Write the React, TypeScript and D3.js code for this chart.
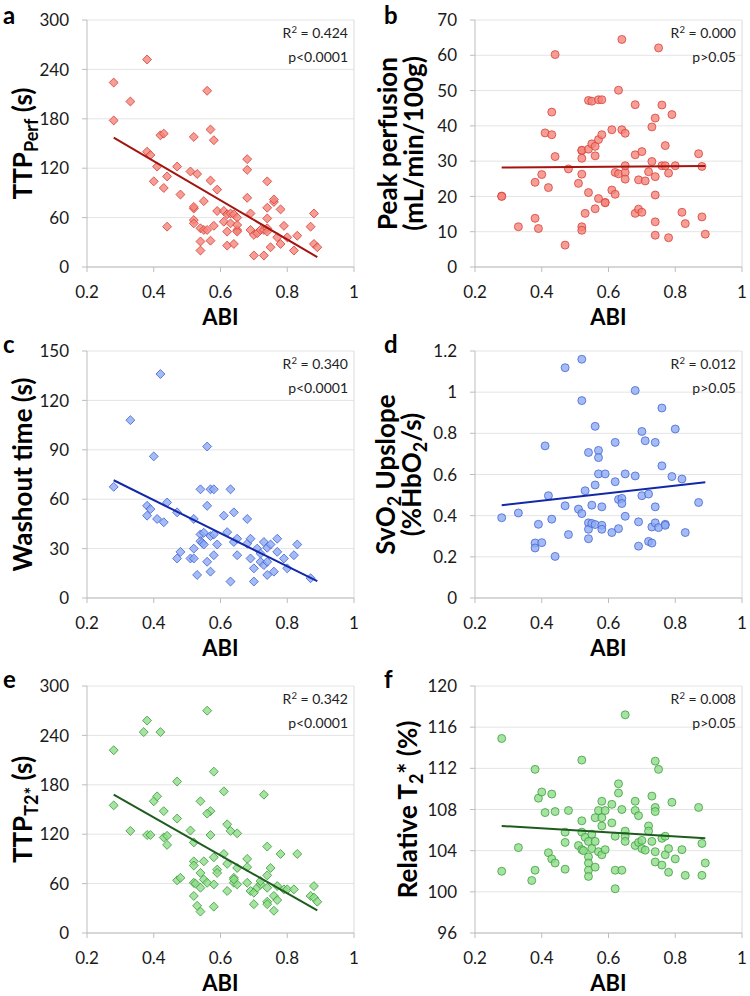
import React from "react";
import * as d3 from "d3";

type Pt = [number, number];

const abiTicks = [0.2, 0.4, 0.6, 0.8, 1];
const trendX: [number, number] = [0.28, 0.89];

// panel a: TTP perf vs ABI
const ttpPerf: Pt[] = [
  [0.28, 224], [0.28, 178], [0.33, 201], [0.38, 252], [0.38, 140], [0.39, 136], [0.42, 160], [0.43, 162],
  [0.41, 122], [0.4, 104], [0.43, 96], [0.44, 110], [0.44, 49], [0.47, 122], [0.48, 88], [0.51, 116],
  [0.52, 158], [0.53, 113], [0.52, 71], [0.52, 73], [0.52, 57], [0.52, 53], [0.54, 47], [0.54, 31],
  [0.54, 20], [0.55, 80], [0.55, 45], [0.56, 45], [0.56, 214], [0.57, 167], [0.58, 154], [0.57, 105],
  [0.59, 94], [0.57, 32], [0.58, 50], [0.59, 68], [0.61, 68], [0.61, 55], [0.62, 64], [0.62, 43],
  [0.62, 26], [0.63, 65], [0.63, 53], [0.64, 64], [0.64, 28], [0.65, 60], [0.65, 45], [0.65, 43],
  [0.65, 51], [0.68, 131], [0.68, 118], [0.68, 84], [0.69, 65], [0.69, 45], [0.7, 39], [0.71, 41],
  [0.7, 14], [0.73, 14], [0.72, 45], [0.73, 45], [0.74, 47], [0.74, 104], [0.74, 72], [0.74, 59],
  [0.74, 43], [0.75, 24], [0.76, 79], [0.76, 82], [0.77, 36], [0.78, 70], [0.78, 28], [0.79, 50],
  [0.8, 36], [0.82, 20], [0.83, 38], [0.87, 49], [0.88, 65], [0.88, 28], [0.89, 24],
];

// panel b: peak perfusion
const peakPerfusion: Pt[] = [
  [0.28, 20.1], [0.28, 20.0], [0.33, 11.4], [0.38, 13.8], [0.38, 24.0], [0.39, 10.9], [0.4, 26.2], [0.41, 38.0],
  [0.42, 22.5], [0.43, 37.5], [0.43, 43.9], [0.44, 31.3], [0.44, 60.2], [0.47, 6.2], [0.48, 27.8], [0.51, 23.7],
  [0.52, 30.8], [0.52, 33.0], [0.52, 33.1], [0.52, 26.3], [0.52, 11.4], [0.52, 10.4], [0.53, 15.2], [0.54, 21.1],
  [0.54, 47.2], [0.54, 33.4], [0.55, 47.0], [0.55, 34.9], [0.56, 34.2], [0.56, 31.5], [0.56, 16.5], [0.57, 36.1],
  [0.57, 47.4], [0.57, 19.4], [0.58, 47.4], [0.58, 37.5], [0.59, 18.3], [0.59, 18.2], [0.61, 38.9], [0.61, 21.8],
  [0.62, 26.8], [0.62, 20.6], [0.63, 26.4], [0.63, 50.1], [0.64, 38.9], [0.64, 64.5], [0.65, 37.9], [0.65, 26.8],
  [0.65, 28.7], [0.65, 24.9], [0.68, 31.8], [0.68, 46.0], [0.68, 15.2], [0.69, 24.7], [0.69, 16.4], [0.7, 32.7],
  [0.7, 15.5], [0.71, 24.4], [0.72, 27.0], [0.73, 29.9], [0.73, 39.7], [0.74, 42.2], [0.74, 25.6], [0.74, 20.4],
  [0.74, 12.8], [0.74, 9.0], [0.75, 62.1], [0.76, 45.9], [0.76, 28.7], [0.77, 34.4], [0.77, 28.7], [0.78, 26.6],
  [0.78, 8.3], [0.79, 43.2], [0.8, 28.7], [0.82, 15.5], [0.83, 12.3], [0.87, 32.1], [0.88, 28.5], [0.88, 14.2],
  [0.89, 9.3],
];

// panel c: washout time
const washout: Pt[] = [
  [0.28, 67.5], [0.33, 108], [0.38, 56], [0.38, 50], [0.39, 54], [0.4, 86], [0.41, 48], [0.42, 136],
  [0.43, 46], [0.44, 58], [0.47, 52], [0.47, 24], [0.48, 28], [0.51, 24], [0.52, 48], [0.52, 30],
  [0.52, 24], [0.53, 14], [0.54, 66], [0.54, 38.6], [0.54, 34.5], [0.545, 33.5], [0.55, 39.6], [0.55, 32.5],
  [0.56, 92], [0.56, 56], [0.56, 22], [0.57, 66], [0.58, 66], [0.57, 37.6], [0.58, 38.6], [0.57, 16],
  [0.58, 26], [0.59, 32.5], [0.61, 50], [0.62, 40], [0.63, 66], [0.63, 10], [0.64, 52], [0.64, 34],
  [0.65, 36], [0.65, 26], [0.68, 48], [0.68, 33], [0.69, 36], [0.69, 24], [0.7, 18], [0.7, 10],
  [0.71, 30], [0.72, 22], [0.72, 27], [0.73, 34], [0.73, 20], [0.74, 30.5], [0.74, 22], [0.74, 14],
  [0.75, 32.5], [0.76, 16], [0.77, 28], [0.77, 36], [0.79, 24], [0.8, 18], [0.82, 26], [0.83, 32.5],
  [0.87, 12],
];

// panel d: SvO2 upslope
const svo2Upslope: Pt[] = [
  [0.28, 0.39], [0.33, 0.413], [0.38, 0.267], [0.38, 0.243], [0.39, 0.358], [0.4, 0.269], [0.41, 0.739], [0.42, 0.497],
  [0.43, 0.383], [0.44, 0.202], [0.47, 1.119], [0.47, 0.448], [0.48, 0.308], [0.51, 0.432], [0.52, 1.16], [0.52, 0.959],
  [0.52, 0.41], [0.53, 0.521], [0.54, 0.707], [0.54, 0.365], [0.54, 0.334], [0.54, 0.288], [0.55, 0.451], [0.55, 0.362],
  [0.56, 0.834], [0.56, 0.549], [0.56, 0.357], [0.57, 0.717], [0.57, 0.682], [0.57, 0.603], [0.58, 0.443], [0.58, 0.353],
  [0.58, 0.334], [0.59, 0.603], [0.61, 0.318], [0.62, 0.756], [0.62, 0.565], [0.63, 0.479], [0.63, 0.337], [0.64, 0.484],
  [0.64, 0.459], [0.65, 0.603], [0.65, 0.397], [0.68, 0.593], [0.68, 1.008], [0.69, 0.37], [0.69, 0.252], [0.7, 0.809],
  [0.7, 0.497], [0.71, 0.764], [0.72, 0.505], [0.72, 0.275], [0.73, 0.267], [0.73, 0.345], [0.74, 0.756], [0.74, 0.443],
  [0.74, 0.365], [0.75, 0.342], [0.76, 0.923], [0.76, 0.642], [0.77, 0.358], [0.77, 0.353], [0.79, 0.59], [0.8, 0.821],
  [0.82, 0.578], [0.83, 0.318], [0.87, 0.464],
];

// panel e: TTP T2*
const ttpT2: Pt[] = [
  [0.28, 222], [0.28, 155], [0.33, 124], [0.37, 244], [0.38, 258], [0.38, 119], [0.39, 119], [0.4, 160],
  [0.41, 166], [0.42, 244], [0.43, 148], [0.43, 116], [0.44, 118], [0.44, 107], [0.47, 184], [0.47, 139],
  [0.47, 64], [0.48, 67], [0.51, 124.5], [0.52, 110], [0.52, 87], [0.52, 82], [0.52, 61], [0.525, 60],
  [0.52, 45], [0.53, 33], [0.54, 160], [0.54, 73], [0.54, 55], [0.54, 26], [0.55, 87], [0.55, 65],
  [0.56, 61], [0.56, 270], [0.57, 148], [0.56, 145], [0.57, 119], [0.58, 92], [0.58, 196], [0.58, 59],
  [0.58, 32], [0.59, 77], [0.59, 73], [0.61, 172], [0.61, 96], [0.62, 132], [0.62, 84], [0.62, 51],
  [0.63, 124], [0.64, 67], [0.64, 61], [0.65, 121], [0.65, 79], [0.65, 59], [0.64, 65], [0.68, 90],
  [0.68, 80], [0.68, 61], [0.69, 51], [0.7, 49], [0.7, 35], [0.71, 55], [0.72, 59], [0.72, 63],
  [0.73, 168], [0.74, 105], [0.74, 70], [0.74, 38], [0.74, 35], [0.74, 55], [0.75, 79], [0.76, 27],
  [0.76, 45], [0.77, 40], [0.78, 96], [0.77, 57], [0.79, 53], [0.8, 53], [0.82, 53], [0.83, 96],
  [0.87, 45], [0.88, 57], [0.88, 43], [0.89, 38],
];

// panel f: relative T2*
const relT2: Pt[] = [
  [0.28, 114.9], [0.28, 102.0], [0.33, 104.3], [0.37, 101.1], [0.38, 111.9], [0.38, 102.1], [0.39, 109.1], [0.4, 109.7],
  [0.41, 107.7], [0.42, 103.8], [0.43, 103.2], [0.43, 109.5], [0.44, 107.8], [0.44, 102.8], [0.47, 105.8], [0.47, 104.8],
  [0.47, 102.2], [0.48, 107.9], [0.51, 104.5], [0.52, 112.8], [0.52, 106.9], [0.52, 105.8], [0.52, 104.1], [0.525, 104.0],
  [0.53, 105.3], [0.54, 104.9], [0.54, 103.4], [0.54, 102.8], [0.54, 102.1], [0.54, 101.5], [0.55, 105.6], [0.55, 104.2],
  [0.56, 107.2], [0.56, 104.9], [0.56, 102.4], [0.57, 107.9], [0.57, 103.9], [0.58, 108.8], [0.58, 107.2], [0.58, 106.4],
  [0.58, 103.6], [0.59, 107.9], [0.59, 104.1], [0.61, 108.5], [0.61, 106.7], [0.62, 105.4], [0.62, 102.1], [0.62, 100.3],
  [0.63, 110.5], [0.63, 109.6], [0.64, 108.0], [0.64, 102.1], [0.65, 117.2], [0.65, 105.9], [0.65, 105.4], [0.65, 104.9],
  [0.68, 108.8], [0.68, 107.9], [0.68, 104.5], [0.69, 107.4], [0.69, 104.8], [0.7, 105.0], [0.7, 104.2], [0.71, 104.05],
  [0.72, 106.4], [0.72, 105.9], [0.73, 109.3], [0.73, 104.9], [0.74, 112.7], [0.74, 108.2], [0.74, 107.8], [0.74, 103.9],
  [0.74, 102.9], [0.75, 111.9], [0.76, 102.6], [0.76, 105.2], [0.77, 105.4], [0.77, 103.6], [0.78, 104.2], [0.78, 101.9],
  [0.79, 108.7], [0.8, 103.2], [0.82, 104.1], [0.83, 101.6], [0.87, 108.2], [0.88, 104.7], [0.88, 101.6], [0.89, 102.8],
];

// fitted line values at trendX ends
const trendA: [number, number] = [157, 12];
const trendB: [number, number] = [28.2, 28.6];
const trendC: [number, number] = [71.5, 10.2];
const trendD: [number, number] = [0.451, 0.562];
const trendE: [number, number] = [168, 27.5];
const trendF: [number, number] = [106.4, 105.2];

const yTicksTTP = [0, 60, 120, 180, 240, 300];
const yTicksPeak = [0, 10, 20, 30, 40, 50, 60, 70];
const yTicksWash = [0, 30, 60, 90, 120, 150];
const yTicksSvo2 = [0, 0.2, 0.4, 0.6, 0.8, 1, 1.2];
const yTicksRel = [96, 100, 104, 108, 112, 116, 120];

const FONT = "Lato, 'Open Sans', sans-serif";
const W = 267;
const H = 247;

const red = { fill: "#f4857c", stroke: "#d63e35", line: "#a3140f" };
const blue = { fill: "#8eaaf2", stroke: "#3f62d2", line: "#1228a8" };
const green = { fill: "#8fdc8a", stroke: "#3a9a3a", line: "#1d5c1d" };

const diamond = d3.symbol().type(d3.symbolSquare).size(40)();

const Panel = ({ letter, left, top, points, shape, color, yTicks, trend, r2, p, children }) => {
  const xScale = d3.scaleLinear().domain([0.2, 1]).range([left, left + W]);
  const yScale = d3
    .scaleLinear()
    .domain([yTicks[0], yTicks[yTicks.length - 1]])
    .range([top + H, top]);
  const bottom = top + H;
  const line = d3
    .line<number>()
    .x((d, i) => xScale(trendX[i]))
    .y((d) => yScale(d));

  return (
    <g fontFamily={FONT}>
      <text x={left < 200 ? 3 : 384} y={Math.max(top + 2, 24)} fontSize={24} fontWeight="bold" fill="#000">
        {letter}
      </text>
      {yTicks.map((t) => (
        <g key={t}>
          <line x1={left} x2={left + W} y1={yScale(t)} y2={yScale(t)} stroke="#e4e4e4" />
          <line x1={left - 5} x2={left} y1={yScale(t)} y2={yScale(t)} stroke="#bdbdbd" />
          <text x={left - 18} y={yScale(t)} dy="0.36em" textAnchor="end" fontSize={17} fill="#1a1a1a">
            {t}
          </text>
        </g>
      ))}
      <line x1={left + W} x2={left + W} y1={top} y2={bottom} stroke="#dadada" />
      {abiTicks.map((t) => (
        <g key={t}>
          <line x1={xScale(t)} x2={xScale(t)} y1={bottom} y2={bottom + 5} stroke="#bdbdbd" />
          <text x={xScale(t)} y={bottom + 31} textAnchor="middle" fontSize={17} fill="#1a1a1a">
            {t}
          </text>
        </g>
      ))}
      <line x1={left} x2={left} y1={top} y2={bottom} stroke="#bdbdbd" />
      <line x1={left} x2={left + W} y1={bottom} y2={bottom} stroke="#bdbdbd" />
      <text x={left + W / 2} y={bottom + 58} textAnchor="middle" fontSize={22} fontWeight="bold">
        ABI
      </text>
      {children}
      <g>
        {points.map(([a, v], i) =>
          shape === "diamond" ? (
            <path
              key={i}
              d={diamond}
              transform={`translate(${xScale(a)},${yScale(v)}) rotate(45)`}
              fill={color.fill}
              fillOpacity={0.8}
              stroke={color.stroke}
              strokeOpacity={0.85}
              strokeWidth={0.9}
            />
          ) : (
            <circle
              key={i}
              cx={xScale(a)}
              cy={yScale(v)}
              r={4}
              fill={color.fill}
              fillOpacity={0.8}
              stroke={color.stroke}
              strokeOpacity={0.85}
              strokeWidth={0.9}
            />
          )
        )}
      </g>
      <path d={line(trend)} stroke={color.line} strokeWidth={2} fill="none" />
      <text x={left + W - 6} y={top + 18} textAnchor="end" fontSize={14} fill="#222">
        R<tspan dy={-5} fontSize={9.5}>2</tspan>
        <tspan dy={5}> = {r2}</tspan>
      </text>
      <text x={left + W - 6} y={top + 42} textAnchor="end" fontSize={14} fill="#222">
        {p}
      </text>
    </g>
  );
};

const YLabel = ({ x, cy, children }) => (
  <text
    transform={`translate(${x},${cy}) rotate(-90)`}
    textAnchor="middle"
    fontSize={26}
    fontWeight="bold"
    fontFamily={FONT}
  >
    {children}
  </text>
);

const L = 87;
const R = 475;
const tops = [20, 351, 686];

export default function App() {
  const cy = (t: number) => t + H / 2;
  return (
    <svg
      width={750}
      height={996}
      style={{ position: "absolute", left: 0, top: 0, background: "#fff" }}
    >
      <Panel letter="a" left={L} top={tops[0]} points={ttpPerf} shape="diamond" color={red}
        yTicks={yTicksTTP} trend={trendA} r2="0.424" p="p<0.0001">
        <YLabel x={L - 55} cy={cy(tops[0])}>
          TTP<tspan dy={6} fontSize={18}>Perf</tspan>
          <tspan dy={-6}> (s)</tspan>
        </YLabel>
      </Panel>
      <Panel letter="b" left={R} top={tops[0]} points={peakPerfusion} shape="circle" color={red}
        yTicks={yTicksPeak} trend={trendB} r2="0.000" p="p>0.05">
        <YLabel x={R - 78} cy={cy(tops[0])}>Peak perfusion</YLabel>
        <YLabel x={R - 52} cy={cy(tops[0])}>(mL/min/100g)</YLabel>
      </Panel>
      <Panel letter="c" left={L} top={tops[1]} points={washout} shape="diamond" color={blue}
        yTicks={yTicksWash} trend={trendC} r2="0.340" p="p<0.0001">
        <YLabel x={L - 55} cy={cy(tops[1])}>Washout time (s)</YLabel>
      </Panel>
      <Panel letter="d" left={R} top={tops[1]} points={svo2Upslope} shape="circle" color={blue}
        yTicks={yTicksSvo2} trend={trendD} r2="0.012" p="p>0.05">
        <YLabel x={R - 80} cy={cy(tops[1])}>
          SvO<tspan dy={6} fontSize={18}>2</tspan>
          <tspan dy={-6}> Upslope</tspan>
        </YLabel>
        <YLabel x={R - 54} cy={cy(tops[1])}>
          (%HbO<tspan dy={6} fontSize={18}>2</tspan>
          <tspan dy={-6}>/s)</tspan>
        </YLabel>
      </Panel>
      <Panel letter="e" left={L} top={tops[2]} points={ttpT2} shape="diamond" color={green}
        yTicks={yTicksTTP} trend={trendE} r2="0.342" p="p<0.0001">
        <YLabel x={L - 55} cy={cy(tops[2])}>
          TTP<tspan dy={6} fontSize={18}>T2*</tspan>
          <tspan dy={-6}> (s)</tspan>
        </YLabel>
      </Panel>
      <Panel letter="f" left={R} top={tops[2]} points={relT2} shape="circle" color={green}
        yTicks={yTicksRel} trend={trendF} r2="0.008" p="p>0.05">
        <YLabel x={R - 58} cy={cy(tops[2])}>
          Relative T<tspan dy={6} fontSize={18}>2</tspan>
          <tspan dy={-6}>* (%)</tspan>
        </YLabel>
      </Panel>
    </svg>
  );
}
